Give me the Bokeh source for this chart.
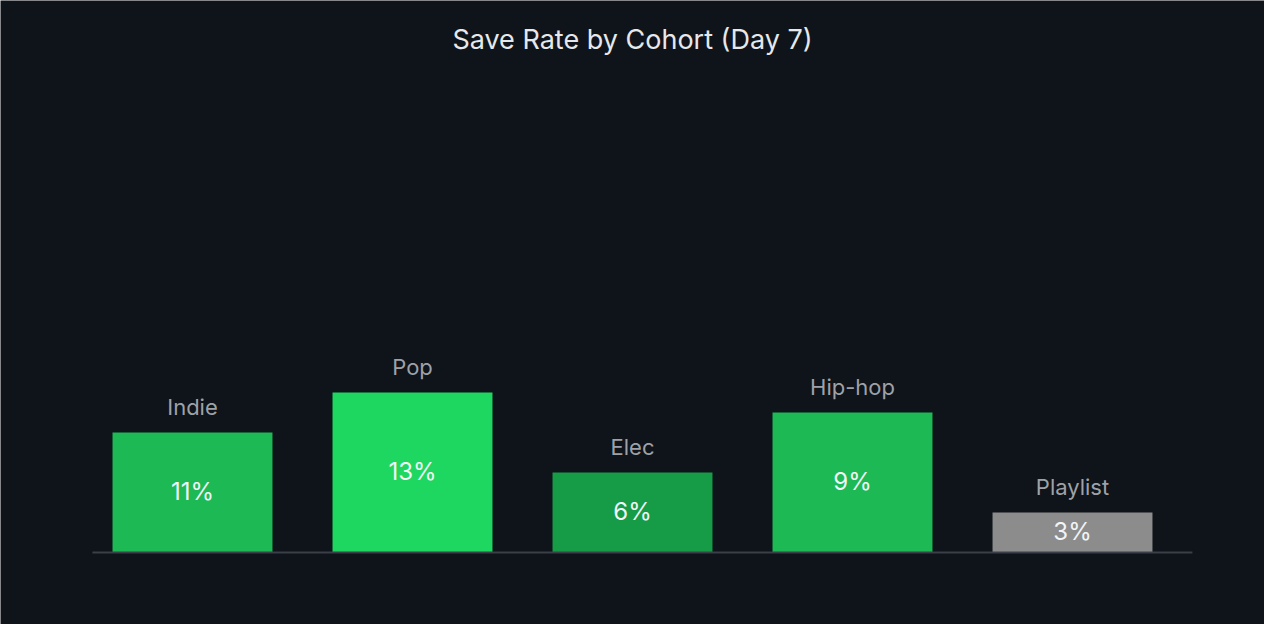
from bokeh.plotting import figure
from bokeh.models import ColumnDataSource, Label, FactorRange, Range1d
from bokeh.core.properties import value
from bokeh.embed import file_html
from bokeh.resources import INLINE

cohorts = ["Indie", "Pop", "Elec", "Hip-hop", "Playlist"]
bar_heights = [6, 8, 4, 7, 2]
rate_labels = ["11%", "13%", "6%", "9%", "3%"]
colors = ["#1db954", "#1ed760", "#169c46", "#1db954", "#8c8c8c"]

BG = "#0f131a"
FONT = "Inter"

source = ColumnDataSource(data=dict(
    cohort=cohorts,
    height=bar_heights,
    mid=[h / 2 for h in bar_heights],
    rate=rate_labels,
    color=colors,
))

# frame fills the whole figure (svg backend draws a thin frame edge otherwise)
p = figure(x_range=FactorRange(factors=cohorts, range_padding=164 / 1100),
           y_range=Range1d(-3.6, 27.6),
           width=1264, height=624,
           output_backend="svg", toolbar_location=None,
           min_border=0)
p.background_fill_color = BG
p.border_fill_color = BG
p.outline_line_color = None
p.xgrid.visible = False
p.ygrid.visible = False
p.xaxis.visible = False
p.yaxis.visible = False

p.vbar(x="cohort", top="height", width=0.727, source=source,
       fill_color="color", line_color=None)

# cohort names above the bars
p.text(x="cohort", y="height", text="cohort", source=source,
       text_align="center", text_baseline="bottom", y_offset=-13,
       text_font=value(FONT), text_font_size="22px", text_color="#9ea2a8")

# rate inside the bars
p.text(x="cohort", y="mid", text="rate", source=source,
       text_align="center", text_baseline="middle", y_offset=-1,
       text_font=value(FONT), text_font_size="24px", text_color="#f2f4f5")

# baseline
p.segment(x0=[0.045], y0=[0], x1=[5.045], y1=[0],
          line_color="#3b4048", line_width=2)

p.add_layout(Label(x=2.5, y=25.65, text="Save Rate by Cohort (Day 7)",
                   text_align="center", text_baseline="middle",
                   text_font=FONT, text_font_size="27px",
                   text_color="#e6e8eb"))

open("out.html", "w").write(file_html(p, INLINE))
